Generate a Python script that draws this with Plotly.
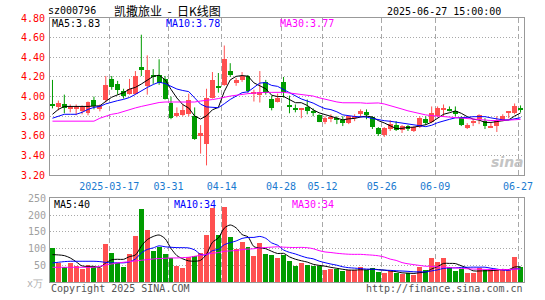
import pandas as pd
import plotly.graph_objects as go

# ---------------- data ----------------
holidays = ["2025-04-04", "2025-05-01", "2025-05-02", "2025-05-05", "2025-06-02"]
dates = [d.strftime("%Y-%m-%d") for d in pd.bdate_range("2025-03-03", "2025-06-27")
         if d.strftime("%Y-%m-%d") not in holidays]

tick_dates = ["2025-03-17", "2025-03-31", "2025-04-14", "2025-04-28",
              "2025-05-12", "2025-05-26", "2025-06-09", "2025-06-27"]
tick_labels = ["2025-03-17", "03-31", "04-14", "04-28", "05-12", "05-26", "06-09", "06-27"]

open_ = [3.92, 3.89, 3.92, 3.88, 3.88, 3.85, 3.83, 3.97, 3.87, 3.97,
         4.18, 4.13, 4.06, 4.03, 4.03, 4.30, 4.11, 4.21, 4.22, 4.18,
         3.94, 3.80, 3.81, 3.82, 3.80, 3.60, 3.52, 3.99, 4.10, 4.12,
         4.26, 4.14, 4.17, 4.21, 4.03, 4.02, 4.15, 3.98, 3.95, 4.15,
         3.91, 3.88, 3.865, 3.89, 3.855, 3.81, 3.745, 3.775, 3.775, 3.76,
         3.73, 3.79, 3.82, 3.84, 3.79, 3.68, 3.61, 3.67, 3.71, 3.665,
         3.70, 3.655, 3.69, 3.77, 3.74, 3.80, 3.865, 3.865, 3.85, 3.78,
         3.69, 3.73, 3.77, 3.755, 3.69, 3.70, 3.765, 3.84, 3.83, 3.87]
high_ = [4.17, 3.96, 4.02, 3.92, 3.92, 3.91, 3.95, 4.00, 3.92, 4.21,
         4.21, 4.16, 4.08, 4.18, 4.26, 4.63, 4.42, 4.28, 4.38, 4.21,
         4.00, 3.89, 3.92, 4.03, 3.89, 3.71, 4.08, 4.25, 4.24, 4.52,
         4.34, 4.19, 4.25, 4.22, 4.07, 4.26, 4.17, 4.01, 4.03, 4.20,
         4.01, 3.92, 3.885, 3.97, 3.88, 3.82, 3.80, 3.82, 3.80, 3.80,
         3.80, 3.82, 3.87, 3.87, 3.80, 3.69, 3.69, 3.76, 3.75, 3.71,
         3.71, 3.70, 3.80, 3.80, 3.90, 3.90, 3.92, 3.90, 3.90, 3.80,
         3.73, 3.77, 3.82, 3.78, 3.74, 3.80, 3.82, 3.845, 3.93, 3.91]
low_ = [3.88, 3.86, 3.83, 3.84, 3.81, 3.82, 3.81, 3.87, 3.85, 3.94,
        4.07, 4.02, 3.98, 4.02, 4.02, 4.21, 4.02, 4.13, 4.12, 3.97,
        3.77, 3.79, 3.80, 3.80, 3.56, 3.42, 3.30, 3.98, 4.04, 4.11,
        4.20, 4.11, 4.15, 4.04, 3.95, 3.94, 4.02, 3.86, 3.94, 3.99,
        3.83, 3.84, 3.78, 3.82, 3.80, 3.74, 3.72, 3.74, 3.72, 3.70,
        3.72, 3.75, 3.79, 3.77, 3.67, 3.60, 3.59, 3.65, 3.65, 3.63,
        3.65, 3.64, 3.68, 3.71, 3.73, 3.79, 3.80, 3.85, 3.80, 3.70,
        3.67, 3.70, 3.72, 3.67, 3.68, 3.64, 3.75, 3.78, 3.82, 3.84]
close_ = [3.91, 3.93, 3.88, 3.89, 3.89, 3.89, 3.95, 3.90, 3.90, 4.12,
          4.10, 4.07, 4.01, 4.08, 4.21, 4.27, 4.27, 4.20, 4.14, 3.98,
          3.78, 3.83, 3.86, 3.97, 3.57, 3.63, 3.99, 4.17, 4.09, 4.38,
          4.22, 4.17, 4.21, 4.06, 4.04, 4.05, 4.04, 3.88, 3.99, 4.05,
          3.90, 3.87, 3.88, 3.85, 3.83, 3.745, 3.78, 3.78, 3.77, 3.74,
          3.80, 3.80, 3.85, 3.82, 3.69, 3.62, 3.68, 3.72, 3.665, 3.70,
          3.67, 3.69, 3.78, 3.73, 3.83, 3.88, 3.88, 3.86, 3.82, 3.71,
          3.71, 3.755, 3.81, 3.705, 3.705, 3.755, 3.805, 3.845, 3.90, 3.865]
volume = [100, 55, 45, 55, 47, 38, 49, 45, 41, 112,
          85, 57, 44, 82, 136, 217, 155, 91, 104, 82,
          71, 47, 42, 74, 77, 85, 139, 219, 139, 223,
          133, 96, 119, 104, 77, 115, 83, 80, 71, 80,
          62, 48, 57, 51, 47, 46, 36, 39, 37, 32,
          35, 35, 44, 36, 42, 29, 26, 32, 26, 24,
          25, 21, 44, 34, 71, 60, 69, 44, 32, 38,
          27, 26, 42, 35, 39, 35, 38, 38, 74, 43]

# moving-average values before a full window is available
ma5_head = [3.82, 3.87, 3.90, 3.90]
ma10_head = [3.78, 3.80, 3.82, 3.82, 3.82, 3.84, 3.87, 3.89, 3.90]
ma30_head = [3.75, 3.75, 3.75, 3.75, 3.75, 3.75, 3.75, 3.75, 3.78, 3.80,
             3.82, 3.83, 3.85, 3.87, 3.885, 3.90, 3.915, 3.93, 3.94, 3.945,
             3.945, 3.945, 3.945, 3.945, 3.945, 3.955, 3.96, 3.97, 3.98]
vma5_head = [82, 81, 79, 72]
vma10_head = [57, 59, 61, 62, 62, 62, 62, 62, 61]
vma30_head = [44, 44, 44, 44, 44, 44, 44, 44, 47, 51,
              54, 57, 59, 61, 63, 65, 67, 69, 70, 71,
              72, 72, 73, 74, 77, 80, 83, 86, 88]

price_ticks = [3.2, 3.4, 3.6, 3.8, 4.0, 4.2, 4.4, 4.6, 4.8]
vol_ticks = [50, 100, 150, 200, 250]

# ---------------- helpers ----------------
def moving(vals, n, head):
    m = pd.Series(vals, dtype=float).rolling(n).mean().tolist()
    return list(head) + m[len(head):]

n = len(close_)
idx = list(range(n))
UP, DOWN = "#ff5050", "#009c00"
up = [c >= o for o, c in zip(open_, close_)]
colors = [UP if u else DOWN for u in up]

ma5 = moving(close_, 5, ma5_head)
ma10 = moving(close_, 10, ma10_head)
ma30 = moving(close_, 30, ma30_head)
vma5 = moving(volume, 5, vma5_head)
vma10 = moving(volume, 10, vma10_head)
vma30 = moving(volume, 30, vma30_head)

X0 = -5 / 12  # so that slot edges fall on whole pixels
xr = [X0, n + X0]
grid_x = [dates.index(d) + X0 for d in tick_dates]

L, R, T, B = 50, 15, 18, 15
W, H = 545 - L - R, 300 - T - B
def px(x):
    return (x - L) / W
def py(y):
    return (300 - B - y) / H

fig = go.Figure()

# wicks
for col, flag in ((UP, True), (DOWN, False)):
    wx, wy = [], []
    for i in idx:
        if up[i] == flag:
            wx += [i, i, None]
            wy += [low_[i], high_[i], None]
    fig.add_trace(go.Scatter(x=wx, y=wy, mode="lines", line=dict(color=col, width=1),
                             xaxis="x", yaxis="y", hoverinfo="skip"))

# bodies
body_base = [min(o, c) for o, c in zip(open_, close_)]
body_h = [max(abs(c - o), 0.011) for o, c in zip(open_, close_)]
fig.add_trace(go.Bar(x=idx, y=body_h, base=body_base, width=5 / 6,
                     marker=dict(color=colors, line=dict(width=0)),
                     xaxis="x", yaxis="y"))

for vals, col in ((ma5, "#000000"), (ma10, "#0000ff"), (ma30, "#ff00ff")):
    fig.add_trace(go.Scatter(x=idx, y=vals, mode="lines", line=dict(color=col, width=1),
                             xaxis="x", yaxis="y"))

# volume
fig.add_trace(go.Bar(x=idx, y=volume, width=5 / 6,
                     marker=dict(color=colors, line=dict(width=0)),
                     xaxis="x2", yaxis="y2"))
for vals, col in ((vma5, "#000000"), (vma10, "#0000ff"), (vma30, "#ff00ff")):
    fig.add_trace(go.Scatter(x=idx, y=vals, mode="lines",
                             line=dict(color=col, width=1, shape="spline", smoothing=0.8),
                             xaxis="x2", yaxis="y2"))

MONO = "DejaVu Sans Mono"
GRIDV = dict(showgrid=True, gridcolor="#a8a8a8", griddash="5px,3px", gridwidth=1)

fig.update_layout(
    width=545, height=300, margin=dict(l=L, r=R, t=T, b=B),
    paper_bgcolor="white", plot_bgcolor="white", showlegend=False, bargap=0,
    xaxis=dict(domain=[0, 1], anchor="y", range=xr, tickmode="array",
               tickvals=grid_x, ticktext=tick_labels, ticks="", ticklabelstandoff=2,
               tickfont=dict(family=MONO, size=10, color="#1a7ad0"),
               showline=True, mirror=True, linecolor="#999999", zeroline=False, **GRIDV),
    xaxis2=dict(domain=[0, 1], anchor="y2", range=xr, tickmode="array",
                tickvals=grid_x, showticklabels=False, ticks="",
                showline=True, mirror=True, linecolor="#999999", zeroline=False, **GRIDV),
    yaxis=dict(domain=[py(177), 1], range=[3.2, 4.8], tickmode="array",
               tickvals=price_ticks, ticktext=["%.2f" % v for v in price_ticks], ticks="",
               ticklabelstandoff=2,
               tickfont=dict(family=MONO, size=10, color="#ff0000"),
               showgrid=True, gridcolor="#a8a8a8", griddash="1px,2px",
               showline=True, mirror=True, linecolor="#999999", zeroline=False),
    yaxis2=dict(domain=[0, py(200.5)], range=[0, 250], tickmode="array",
                tickvals=vol_ticks, ticktext=[str(v) for v in vol_ticks], ticks="",
                ticklabelstandoff=1,
                tickfont=dict(family=MONO, size=10, color="#a0a0a0"),
                showgrid=True, gridcolor="#a8a8a8", griddash="1px,2px",
                showline=True, mirror=True, linecolor="#999999", zeroline=False),
)

def note(text, x, y, anchor="left", color="#000000", size=10, family=MONO, **kw):
    fig.add_annotation(text=text, x=px(x), y=py(y), xref="paper", yref="paper",
                       xanchor=anchor, yanchor="middle", showarrow=False,
                       font=dict(family=family, size=size, color=color), borderpad=0, **kw)

NB = "\u00a0"
note("sz000796", 47, 10.5)
note("凯撒旅业" + NB * 2 + "-" + NB * 2 + "日K线图", 168.5, 10.5, anchor="center", size=12,
     family="Noto Sans CJK SC")
note("2025-06-27 15:00:00", 508, 11, anchor="right")
note("MA5:3.83", 51.5, 24)
note("MA10:3.78", 166.5, 24, color="#0000ff")
note("MA30:3.77", 282, 24, color="#ff00ff")
note("MA5:40", 53.5, 206.5)
note("MA10:34", 174.5, 206.5, color="#0000ff")
note("MA30:34", 294.5, 206.5, color="#ff00ff")
note("Copyright 2025 SINA.COM", 49.5, 292, color="#555555")
note("http://finance.sina.com.cn", 530, 292, anchor="right", color="#555555")
note("x万", 44, 287, anchor="right", color="#b0b0b0")
note("<b><i>sina</i></b>", 513, 164, anchor="center", color="#c4c4c4", size=14,
     family="DejaVu Sans")

fig.write_html("out.html")
